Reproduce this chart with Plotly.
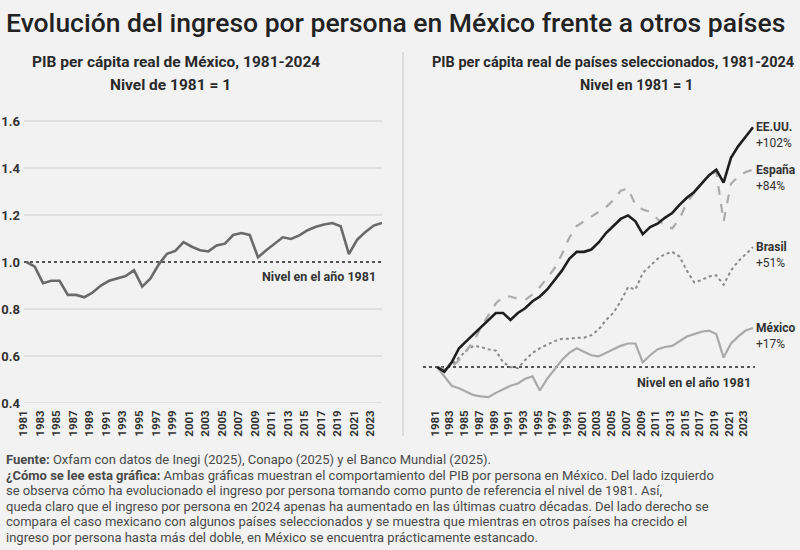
import plotly.graph_objects as go

# ---------------- data ----------------
years = list(range(1981, 2025))

mexico_left = [1.00, 0.98, 0.91, 0.92, 0.92, 0.86, 0.86, 0.85, 0.87, 0.90,
               0.92, 0.93, 0.94, 0.965, 0.895, 0.93, 0.99, 1.035, 1.047, 1.085,
               1.065, 1.05, 1.045, 1.07, 1.078, 1.115, 1.123, 1.115, 1.02, 1.05,
               1.077, 1.105, 1.098, 1.113, 1.135, 1.15, 1.16, 1.166, 1.152, 1.034,
               1.095, 1.128, 1.155, 1.166]

eeuu = [1.00, 0.98, 1.02, 1.08, 1.11, 1.14, 1.17, 1.20, 1.23, 1.23,
        1.20, 1.23, 1.25, 1.28, 1.30, 1.33, 1.37, 1.41, 1.46, 1.49,
        1.49, 1.50, 1.53, 1.57, 1.60, 1.63, 1.645, 1.62, 1.565, 1.595,
        1.61, 1.635, 1.655, 1.69, 1.72, 1.745, 1.78, 1.815, 1.84, 1.785,
        1.89, 1.94, 1.98, 2.02]

espana = [1.00, 0.99, 1.00, 1.03, 1.07, 1.11, 1.17, 1.22, 1.27, 1.30,
          1.30, 1.29, 1.285, 1.31, 1.34, 1.38, 1.42, 1.48, 1.55, 1.60,
          1.62, 1.64, 1.66, 1.68, 1.71, 1.75, 1.76, 1.69, 1.67, 1.66,
          1.63, 1.60, 1.59, 1.63, 1.70, 1.74, 1.78, 1.82, 1.83, 1.62,
          1.78, 1.81, 1.83, 1.84]

brasil = [1.00, 0.99, 1.01, 1.04, 1.07, 1.09, 1.085, 1.075, 1.07, 1.02,
          1.00, 0.995, 1.03, 1.06, 1.08, 1.095, 1.11, 1.12, 1.12, 1.125,
          1.125, 1.135, 1.16, 1.20, 1.23, 1.28, 1.34, 1.33, 1.40, 1.43,
          1.46, 1.48, 1.49, 1.47, 1.41, 1.36, 1.37, 1.385, 1.39, 1.35,
          1.41, 1.45, 1.48, 1.51]

mexico_right = [1.00, 0.96, 0.92, 0.91, 0.895, 0.88, 0.875, 0.872, 0.89, 0.905,
                0.92, 0.93, 0.95, 0.96, 0.90, 0.95, 0.99, 1.03, 1.06, 1.08,
                1.065, 1.05, 1.045, 1.06, 1.072, 1.09, 1.10, 1.10, 1.02, 1.05,
                1.075, 1.085, 1.09, 1.11, 1.13, 1.14, 1.15, 1.155, 1.14, 1.04,
                1.10, 1.13, 1.155, 1.166]

year_ticks = list(range(1981, 2024, 2))
left_y_ticks = [0.4, 0.6, 0.8, 1.0, 1.2, 1.4, 1.6]
base_level = 1.0

series_right = [
    ("México", mexico_right, dict(color="#a9a9a9", width=2.2)),
    ("Brasil", brasil, dict(color="#8a8a8a", width=2, dash="dot")),
    ("España", espana, dict(color="#ababab", width=2.2, dash="dash")),
    ("EE.UU.", eeuu, dict(color="#1e1e1e", width=2.6)),
]

title_text = "Evolución del ingreso por persona en México frente a otros países"
source_text = "<b>Fuente:</b> Oxfam con datos de Inegi (2025), Conapo (2025) y el Banco Mundial (2025)."
note_lines = [
    "<b>¿Cómo se lee esta gráfica:</b> Ambas gráficas muestran el comportamiento del PIB por persona en México. Del lado izquierdo",
    "se observa cómo ha evolucionado el ingreso por persona tomando como punto de referencia el nivel de 1981. Así,",
    "queda claro que el ingreso por persona en 2024 apenas ha aumentado en las últimas cuatro décadas. Del lado derecho se",
    "compara el caso mexicano con algunos países seleccionados y se muestra que mientras en otros países ha crecido el",
    "ingreso por persona hasta más del doble, en México se encuentra prácticamente estancado.",
]

# ---------------- layout helpers ----------------
W, H = 800, 550
BG = "#f2f2f2"
FONT = "Roboto, sans-serif"

L0, L1 = 24, 382      # left plot, px
R0, R1 = 423, 755     # right plot, px
T0, B0 = 100, 403     # plot top / bottom, px
PX_PER_UNIT = 235


def px(x):
    return x / W


def py(y):
    return 1 - y / H


fig = go.Figure()

fig.add_trace(go.Scatter(x=years, y=mexico_left, xaxis="x", yaxis="y", mode="lines",
                         line=dict(color="#6a6a6a", width=2.6), hoverinfo="skip",
                         showlegend=False))
for name, vals, ln in series_right:
    fig.add_trace(go.Scatter(x=years, y=vals, xaxis="x2", yaxis="y2", mode="lines",
                             line=ln, name=name, hoverinfo="skip", showlegend=False))

tickfont = dict(family=FONT, size=11.5, color="#333333", weight="bold")
span = (B0 - T0) / PX_PER_UNIT
r_per_year = (R1 - R0 - 16) / (2024 - 1981)

fig.update_layout(
    width=W, height=H,
    margin=dict(l=0, r=0, t=0, b=0),
    paper_bgcolor=BG, plot_bgcolor=BG,
    showlegend=False,
    xaxis=dict(domain=[px(L0), px(L1)], range=[1980.7, 2024], anchor="y",
               tickvals=year_ticks, tickangle=-90, tickfont=tickfont,
               showgrid=False, zeroline=False, showline=False, ticks="",
               automargin=False, ticklabelstandoff=4, ticklabelshift=-3,
               ticklabeloverflow="allow", fixedrange=True),
    yaxis=dict(domain=[py(B0), py(T0)], range=[0.4, 0.4 + span], anchor="x",
               tickvals=left_y_ticks, tickformat=".1f",
               tickfont=dict(family=FONT, size=13, color="#333333", weight="bold"),
               showgrid=False, zeroline=False, showline=False, ticks="",
               automargin=False, ticklabelstandoff=3, fixedrange=True),
    xaxis2=dict(domain=[px(R0), px(R1)],
                range=[1981 - 14 / r_per_year, 2024 + 2 / r_per_year], anchor="y2",
                tickvals=year_ticks, tickangle=-90, tickfont=tickfont,
                showgrid=False, zeroline=False, showline=False, ticks="",
                automargin=False, ticklabelstandoff=4, ticklabelshift=-2,
                ticklabeloverflow="allow", fixedrange=True),
    yaxis2=dict(domain=[py(B0), py(T0)], range=[1 - 36 / PX_PER_UNIT, 1 - 36 / PX_PER_UNIT + span],
                anchor="x2", visible=False, fixedrange=True),
)

shapes = []
for v in left_y_ticks:
    if v == base_level:
        continue
    shapes.append(dict(type="line", xref="x domain", x0=0, x1=1, yref="y", y0=v, y1=v,
                       line=dict(color="#dadada", width=1.6), layer="below"))
for xr, yr in (("x domain", "y"), ("x2 domain", "y2")):
    shapes.append(dict(type="line", xref=xr, x0=0, x1=1, yref=yr, y0=base_level, y1=base_level,
                       line=dict(color="#555555", width=1.8, dash="dot"), layer="below"))
shapes.append(dict(type="line", xref="paper", yref="paper", x0=px(403), x1=px(403),
                   y0=py(52), y1=py(436), line=dict(color="#cfcfcf", width=1.2)))
fig.update_layout(shapes=shapes)

ann = []
ann.append(dict(text=title_text, xref="paper", yref="paper", x=px(4), y=py(22),
                xanchor="left", yanchor="middle", showarrow=False,
                font=dict(family=FONT, size=26.5, color="#222222", weight=500)))

subs = [
    ("PIB per cápita real de México, 1981-2024", 176, 62, 15.5),
    ("Nivel de 1981 = 1", 170, 85, 15.5),
    ("PIB per cápita real de países seleccionados, 1981-2024", 613, 62, 14.5),
    ("Nivel en 1981 = 1", 636, 85, 14.5),
]
for txt, x, y, s in subs:
    ann.append(dict(text=txt, xref="paper", yref="paper", x=px(x), y=py(y),
                    xanchor="center", yanchor="middle", showarrow=False,
                    font=dict(family=FONT, size=s, color="#2a2a2a", weight="bold")))

lvl_font = dict(family=FONT, size=12.5, color="#333333", weight="bold")
ann.append(dict(text="Nivel en el año 1981", xref="x domain", yref="y", x=1, y=base_level,
                xshift=-4, yshift=-14, xanchor="right", yanchor="middle",
                showarrow=False, font=lvl_font))
ann.append(dict(text="Nivel en el año 1981", xref="x2 domain", yref="y2", x=1, y=base_level,
                xshift=-2, yshift=-15, xanchor="right", yanchor="middle",
                showarrow=False, font=lvl_font))

for name, vals, ln in series_right:
    pct = round((vals[-1] - 1) * 100)
    ann.append(dict(text=f"<b>{name}</b><br>+{pct}%", xref="x2", yref="y2",
                    x=years[-1], y=vals[-1], xshift=1, yshift=-8,
                    xanchor="left", yanchor="middle", showarrow=False, align="left",
                    font=dict(family=FONT, size=12, color="#333333")))

note_font = dict(family=FONT, size=13, color="#4a4a4a")
ann.append(dict(text=source_text, xref="paper", yref="paper", x=px(4), y=py(459),
                xanchor="left", yanchor="middle", showarrow=False, font=note_font))
for i, line in enumerate(note_lines):
    ann.append(dict(text=line, xref="paper", yref="paper", x=px(4), y=py(475 + 15.5 * i),
                    xanchor="left", yanchor="middle", showarrow=False, font=note_font))

fig.update_layout(annotations=ann)
fig.write_html("out.html")
